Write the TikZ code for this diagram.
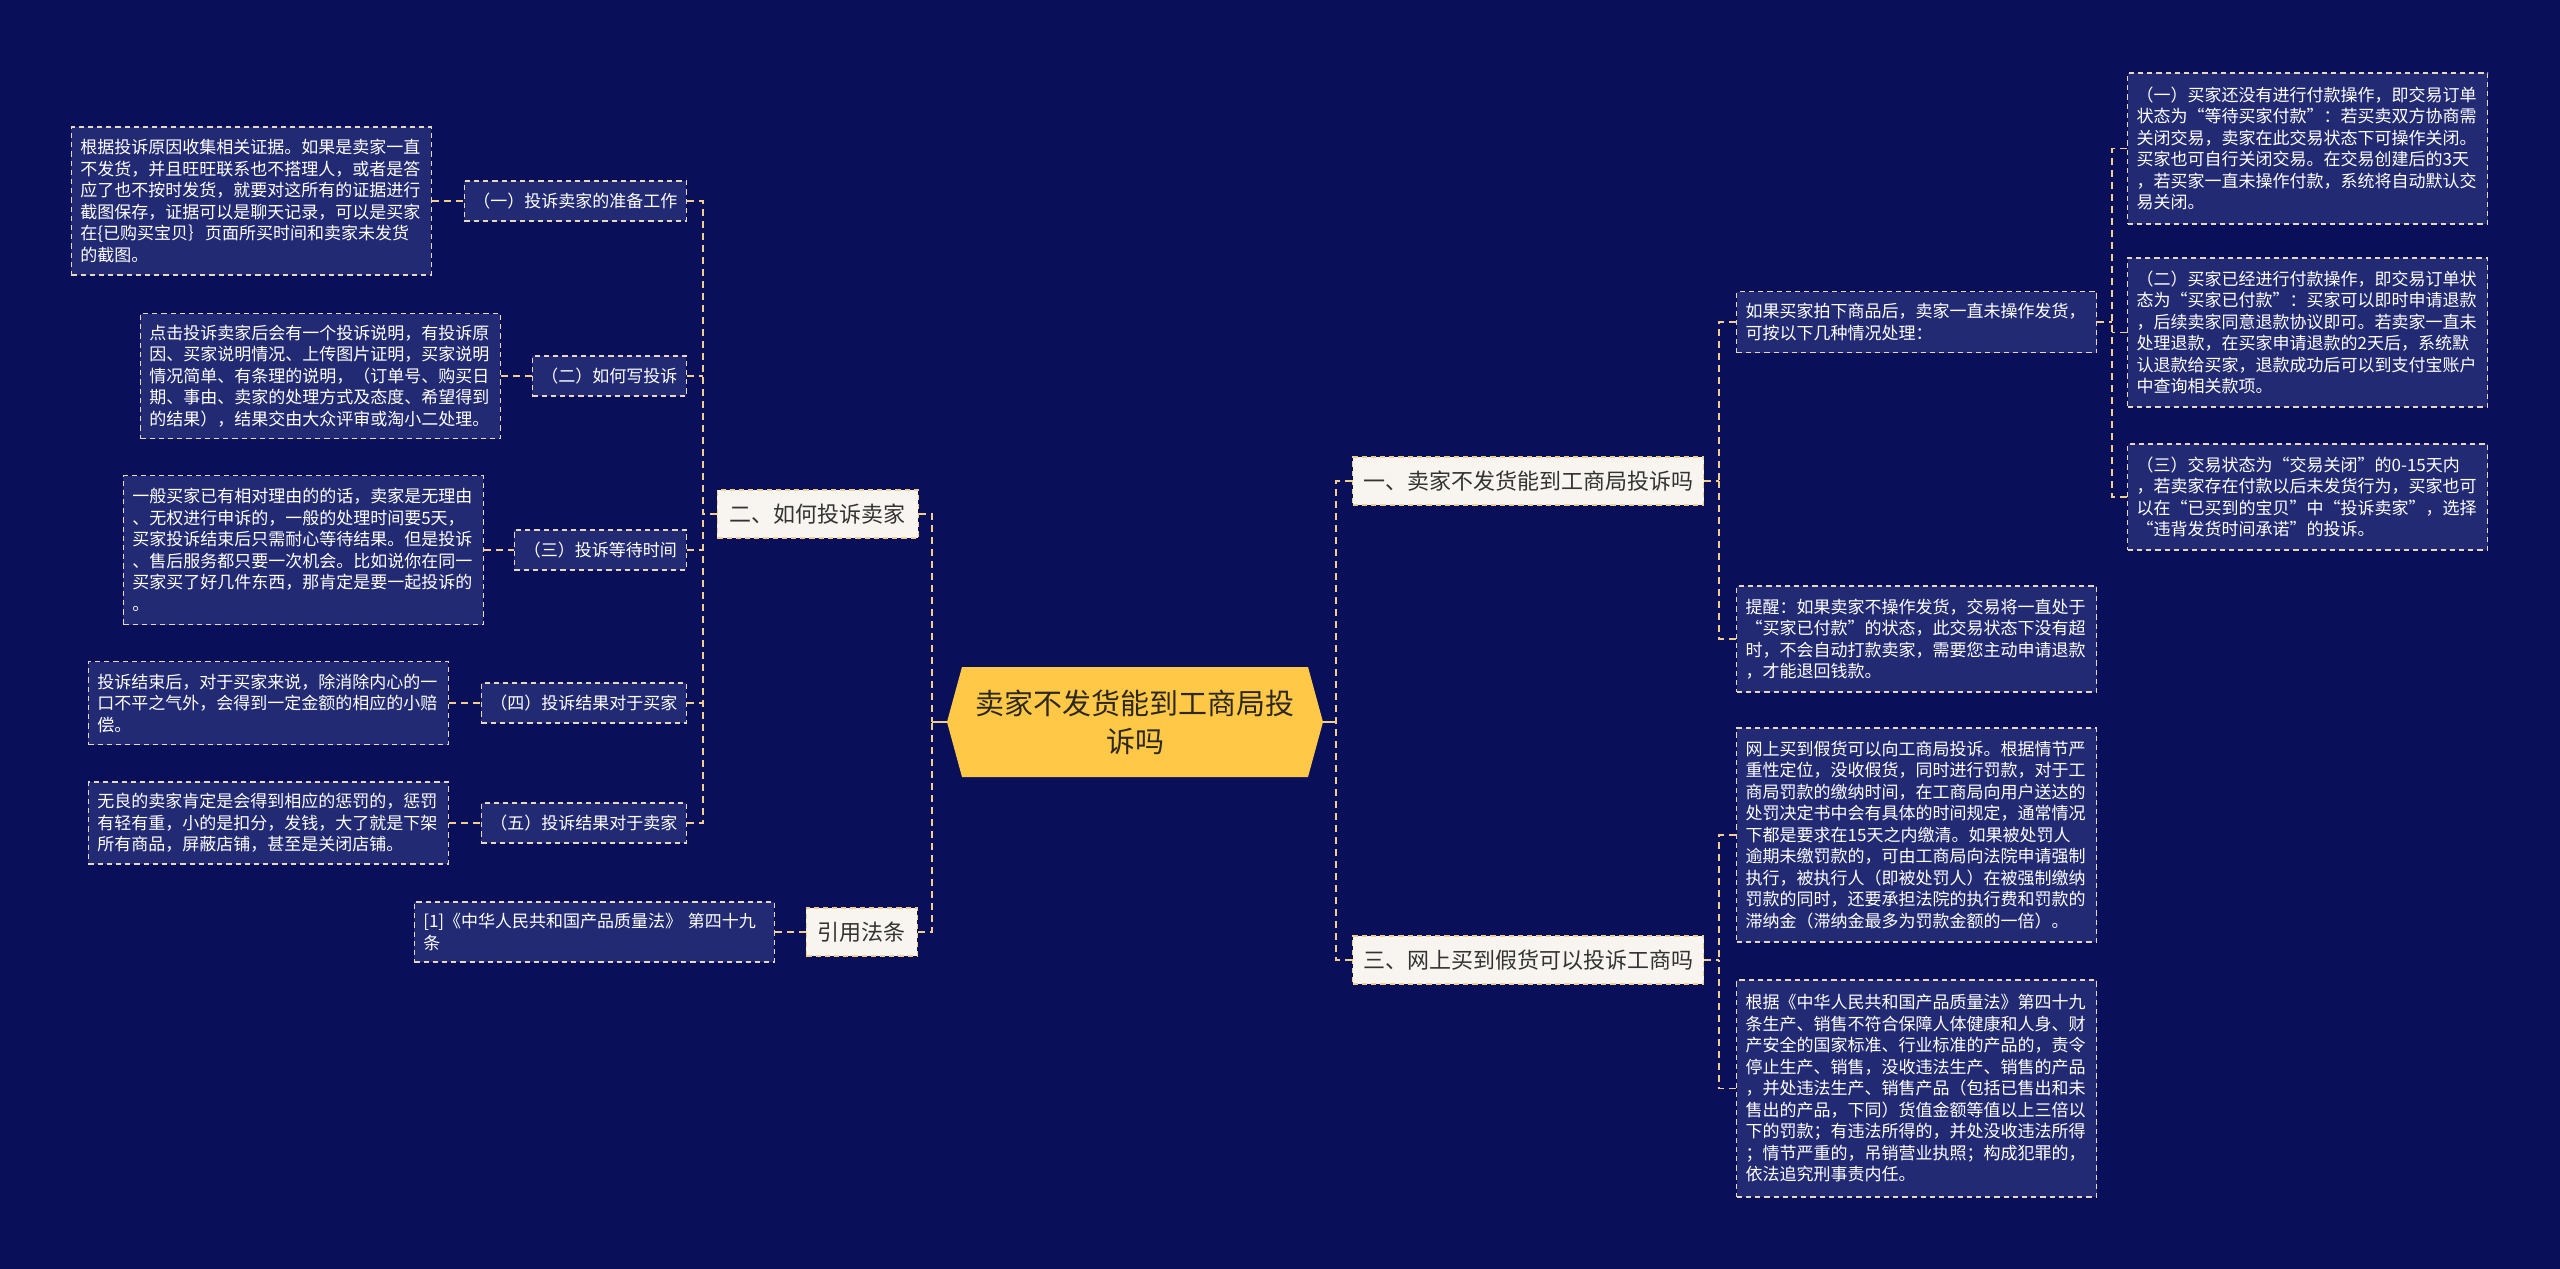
\documentclass[tikz,border=0pt]{standalone}
\usepackage{fontspec}
\setmainfont{Noto Sans CJK SC}
\newfontfamily\cjk{Noto Sans CJK SC}
\definecolor{bgc}{RGB}{10,15,90}
\definecolor{leafc}{RGB}{34,42,116}
\definecolor{bordc}{RGB}{232,216,188}
\definecolor{connc}{RGB}{240,206,140}
\definecolor{lvlc}{RGB}{248,245,240}
\definecolor{lvltext}{RGB}{51,51,51}
\definecolor{ctrc}{RGB}{255,201,71}
\definecolor{ctrtext}{RGB}{45,40,30}
\tikzset{
  leaf/.style={draw=bordc, dash pattern=on 2.6pt off 2pt, line width=0.7pt, fill=leafc, text=white,
    font=\cjk\fontsize{8.5pt}{10.75pt}\selectfont, align=left, text width=171pt,
    inner xsep=4.5pt, inner ysep=0pt},
  sub/.style={draw=bordc, dash pattern=on 2.6pt off 2pt, line width=0.7pt, fill=leafc, text=white,
    font=\cjk\fontsize{8.5pt}{10.75pt}\selectfont, minimum height=20pt, inner xsep=0pt, inner ysep=0pt},
  main/.style={draw=connc, dash pattern=on 2.6pt off 2pt, line width=0.7pt, fill=lvlc, text=lvltext,
    font=\cjk\fontsize{11pt}{13pt}\selectfont, minimum height=24pt, inner xsep=0pt, inner ysep=0pt},
  ctrnode/.style={font=\cjk\fontsize{14.5pt}{19pt}\selectfont, text=ctrtext, align=center,
    minimum width=188pt, minimum height=55pt, inner sep=0pt},
  conn/.style={draw=connc, line width=0.8pt, dash pattern=on 3.5pt off 2.5pt},
  stub/.style={draw=connc, line width=0.9pt},
}
\begin{document}
\begin{tikzpicture}[x=0.5pt,y=-0.5pt]
\fill[bgc] (0,0) rectangle (2560,1269);
\useasboundingbox (0,0) rectangle (2560,1269);

% centre
\fill[ctrc] (947,722) -- (962,667) -- (1308,667) -- (1323,722) -- (1308,777) -- (962,777) -- cycle;
\node[ctrnode] (ctr) at (1135,722) {卖家不发货能到工商局投\\诉吗};

% level 1
\node[main, minimum width=100.5pt, anchor=east] (n2) at (919,514) {二、如何投诉卖家};
\node[main, minimum width=55.5pt, anchor=east] (nlaw) at (918,932) {引用法条};
\node[main, minimum width=175.5pt, anchor=west] (n1) at (1352,481) {一、卖家不发货能到工商局投诉吗};
\node[main, minimum width=175.5pt, anchor=west] (n3) at (1352,960) {三、网上买到假货可以投诉工商吗};

% level 2 left
\node[sub, minimum width=111pt, anchor=east] (a1) at (687,201) {（一）投诉卖家的准备工作};
\node[sub, minimum width=77pt, anchor=east] (a2) at (687,376) {（二）如何写投诉};
\node[sub, minimum width=86pt, anchor=east] (a3) at (687,550) {（三）投诉等待时间};
\node[sub, minimum width=102.5pt, anchor=east] (a4) at (687,703) {（四）投诉结果对于买家};
\node[sub, minimum width=102.5pt, anchor=east] (a5) at (687,823) {（五）投诉结果对于卖家};

% leaves left
\node[leaf, minimum height=74pt, anchor=east] (l1) at (432,201) {根据投诉原因收集相关证据。如果是卖家一直\\不发货，并且旺旺联系也不搭理人，或者是答\\应了也不按时发货，就要对这所有的证据进行\\截图保存，证据可以是聊天记录，可以是买家\\在\{已购买宝贝｝页面所买时间和卖家未发货\\的截图。};
\node[leaf, minimum height=62.5pt, anchor=east] (l2) at (501,376) {点击投诉卖家后会有一个投诉说明，有投诉原\\因、买家说明情况、上传图片证明，买家说明\\情况简单、有条理的说明，（订单号、购买日\\期、事由、卖家的处理方式及态度、希望得到\\的结果），结果交由大众评审或淘小二处理。};
\node[leaf, minimum height=74.5pt, anchor=east] (l3) at (484,550) {一般买家已有相对理由的的话，卖家是无理由\\、无权进行申诉的，一般的处理时间要5天，\\买家投诉结束后只需耐心等待结果。但是投诉\\、售后服务都只要一次机会。比如说你在同一\\买家买了好几件东西，那肯定是要一起投诉的\\。};
\node[leaf, minimum height=41.5pt, anchor=east] (l4) at (449,703) {投诉结束后，对于买家来说，除消除内心的一\\口不平之气外，会得到一定金额的相应的小赔\\偿。};
\node[leaf, minimum height=41pt, anchor=east] (l5) at (449,823) {无良的卖家肯定是会得到相应的惩罚的，惩罚\\有轻有重，小的是扣分，发钱，大了就是下架\\所有商品，屏蔽店铺，甚至是关闭店铺。};
\node[leaf, minimum height=30pt, anchor=east] (llaw) at (775,932) {[1]《中华人民共和国产品质量法》 第四十九\\条};

% right side
\node[leaf, minimum height=30.5pt, anchor=west] (rif) at (1736,322) {如果买家拍下商品后，卖家一直未操作发货，\\可按以下几种情况处理：};
\node[leaf, minimum height=53pt, anchor=west] (rtip) at (1736,639) {提醒：如果卖家不操作发货，交易将一直处于\\“买家已付款”的状态，此交易状态下没有超\\时，不会自动打款卖家，需要您主动申请退款\\，才能退回钱款。};
\node[leaf, minimum height=75.5pt, anchor=west] (r1) at (2127,148.5) {（一）买家还没有进行付款操作，即交易订单\\状态为“等待买家付款”：若买卖双方协商需\\关闭交易，卖家在此交易状态下可操作关闭。\\买家也可自行关闭交易。在交易创建后的3天\\，若买家一直未操作付款，系统将自动默认交\\易关闭。};
\node[leaf, minimum height=74.5pt, anchor=west] (r2) at (2127,332.5) {（二）买家已经进行付款操作，即交易订单状\\态为“买家已付款”：买家可以即时申请退款\\，后续卖家同意退款协议即可。若卖家一直未\\处理退款，在买家申请退款的2天后，系统默\\认退款给买家，退款成功后可以到支付宝账户\\中查询相关款项。};
\node[leaf, minimum height=53pt, anchor=west] (r3) at (2127,497) {（三）交易状态为“交易关闭”的0-15天内\\，若卖家存在付款以后未发货行为，买家也可\\以在“已买到的宝贝”中“投诉卖家”，选择\\“违背发货时间承诺”的投诉。};
\node[leaf, minimum height=107pt, anchor=west] (ra) at (1736,835) {网上买到假货可以向工商局投诉。根据情节严\\重性定位，没收假货，同时进行罚款，对于工\\商局罚款的缴纳时间，在工商局向用户送达的\\处罚决定书中会有具体的时间规定，通常情况\\下都是要求在15天之内缴清。如果被处罚人\\逾期未缴罚款的，可由工商局向法院申请强制\\执行，被执行人（即被处罚人）在被强制缴纳\\罚款的同时，还要承担法院的执行费和罚款的\\滞纳金（滞纳金最多为罚款金额的一倍）。};
\node[leaf, minimum height=108.5pt, anchor=west] (rb) at (1736,1088.5) {根据《中华人民共和国产品质量法》第四十九\\条生产、销售不符合保障人体健康和人身、财\\产安全的国家标准、行业标准的产品的，责令\\停止生产、销售，没收违法生产、销售的产品\\，并处违法生产、销售产品（包括已售出和未\\售出的产品，下同）货值金额等值以上三倍以\\下的罚款；有违法所得的，并处没收违法所得\\；情节严重的，吊销营业执照；构成犯罪的，\\依法追究刑事责内任。};

% junctions
\coordinate (jL) at (932,722);
\coordinate (jR) at (1336,722);
\coordinate (jA) at (703,514);
\coordinate (jB) at (1719,481);
\coordinate (jC) at (2112,322);
\coordinate (jD) at (1719,960);

% connectors centre
\draw[stub] (ctr.west) -- (jL);
\draw[stub] (ctr.east) -- (jR);
\draw[conn] (n2.east) -| (jL);
\draw[conn] (nlaw.east) -| (jL);
\draw[conn] (n1.west) -| (jR);
\draw[conn] (n3.west) -| (jR);

% left group
\draw[conn] (n2.west) -- (jA);
\draw[conn] (a1.east) -| (jA);
\draw[conn] (a5.east) -| (jA);
\draw[conn] (a2.east) -- (a2.east -| jA);
\draw[conn] (a3.east) -- (a3.east -| jA);
\draw[conn] (a4.east) -- (a4.east -| jA);
\draw[conn] (l1.east) -- (a1.west);
\draw[conn] (l2.east) -- (a2.west);
\draw[conn] (l3.east) -- (a3.west);
\draw[conn] (l4.east) -- (a4.west);
\draw[conn] (l5.east) -- (a5.west);
\draw[conn] (llaw.east) -- (nlaw.west);

% right groups
\draw[conn] (n1.east) -- (jB);
\draw[conn] (rif.west) -| (jB);
\draw[conn] (rtip.west) -| (jB);
\draw[conn] (rif.east) -- (jC);
\draw[conn] (r1.west) -| (jC);
\draw[conn] (r3.west) -| (jC);
\draw[conn] (r2.west) -- (r2.west -| jC);
\draw[conn] (n3.east) -- (jD);
\draw[conn] (ra.west) -| (jD);
\draw[conn] (rb.west) -| (jD);
\end{tikzpicture}
\end{document}
